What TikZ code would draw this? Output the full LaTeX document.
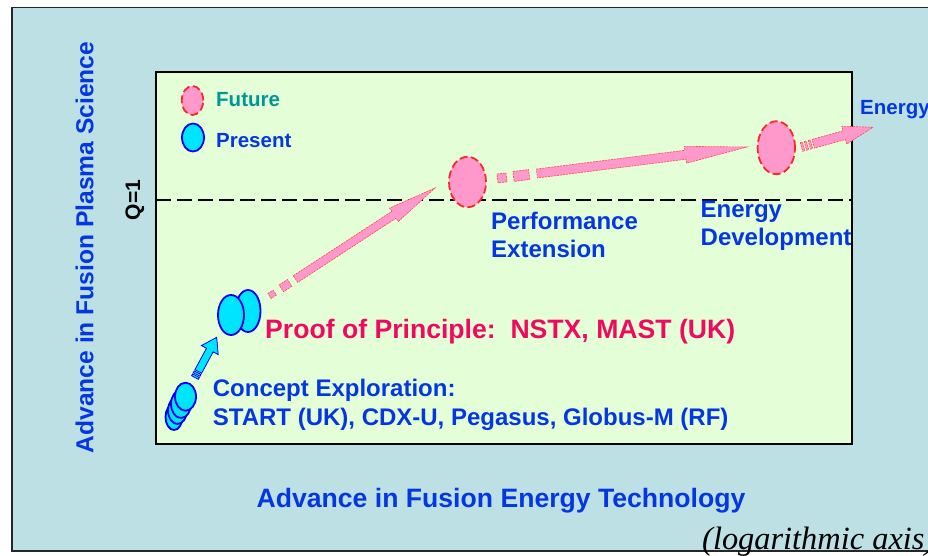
\documentclass[tikz,border=0pt]{standalone}
\usepackage{fontspec}
\setmainfont{Liberation Sans}
\newfontfamily\timesfont{Liberation Serif}
\usetikzlibrary{calc,positioning,shapes.geometric}
\definecolor{outerbg}{RGB}{188,224,228}
\definecolor{innerbg}{RGB}{228,254,216}
\definecolor{futurepink}{RGB}{255,153,204}
\definecolor{futurered}{RGB}{250,40,40}
\definecolor{presentcyan}{RGB}{0,229,255}
\definecolor{presentblue}{RGB}{0,0,235}
\definecolor{labelblue}{RGB}{5,55,225}
\definecolor{futureteal}{RGB}{0,150,150}
\definecolor{proofred}{RGB}{240,10,95}
\tikzset{
  future/.style={ellipse,inner sep=0pt,fill=futurepink,draw=futurered,line width=1.8pt,dash pattern=on 8pt off 3.5pt},
  present/.style={ellipse,inner sep=0pt,fill=presentcyan,draw=presentblue,line width=1.8pt},
  pinkarrow/.style={fill=futurepink,draw=futurered!85,line width=0.6pt,dash pattern=on 2pt off 1pt},
  cyanarrow/.style={fill=presentcyan,draw=presentblue,line width=0.8pt},
  lbl/.style={inner sep=0pt,anchor=base west,font=\bfseries,align=left},
}
% fat arrow: style, tail, tip, shaft start (fraction), shaft half width, head half width, head length
\newcommand{\blockarrow}[7]{%
  \coordinate (ba-s) at ($(#2)!#4!(#3)$);
  \coordinate (ba-h) at ($(#3)!#7!(#2)$);
  \draw[#1] ($(ba-s)!#5!90:(#3)$) -- ($(ba-h)!#5!90:(#3)$) -- ($(ba-h)!#6!90:(#3)$) -- (#3)
    -- ($(ba-h)!#6!-90:(#3)$) -- ($(ba-h)!#5!-90:(#3)$) -- ($(ba-s)!#5!-90:(#3)$) -- cycle;
}
% broken tail piece: style, tail, tip, from, to (fractions), half width
\newcommand{\tailbit}[6]{%
  \coordinate (tb-a) at ($(#2)!#4!(#3)$);
  \coordinate (tb-b) at ($(#2)!#5!(#3)$);
  \draw[#1] ($(tb-a)!#6!90:(tb-b)$) -- ($(tb-b)!#6!-90:(tb-a)$) -- ($(tb-b)!#6!90:(tb-a)$) -- ($(tb-a)!#6!-90:(tb-b)$) -- cycle;
}

\begin{document}
\begin{tikzpicture}[x=1pt,y=-1pt]
\useasboundingbox (0,0) rectangle (928,556);
\clip (0,0) rectangle (928,556);
\fill[white] (0,0) rectangle (928,556);
\draw[fill=outerbg,draw=black!85,line width=1.2pt] (12,7.5) rectangle (945,551);
\draw[fill=innerbg,line width=2.7pt] (156,72) rectangle (852,444);

% Q=1 level
\coordinate (qL) at (156,200);
\coordinate (qR) at (851,200);
\draw[line width=1.6pt,dash pattern=on 15pt off 6pt] (qL) -- (qR);
\node[inner sep=0pt,anchor=base,rotate=90,font=\bfseries\fontsize{21}{25}\selectfont] (q1) at (140,200) {Q=1};

% axis labels
\node[inner sep=0pt,anchor=base,rotate=90,text=labelblue,font=\bfseries\fontsize{24.6}{29}\selectfont] (yaxis) at (93.3,247.5) {Advance in Fusion Plasma Science};
\node[inner sep=0pt,anchor=base,text=labelblue,font=\bfseries\fontsize{26.6}{31}\selectfont] (xaxis) at (501,507.3) {Advance in Fusion Energy Technology};
\node[inner sep=0pt,anchor=base west,font=\timesfont\itshape\fontsize{32.4}{37}\selectfont] (logaxis) at (702,549) {(logarithmic axis)};

% legend
\node[future,minimum width=21.5pt,minimum height=29pt] (legfut) at (192.5,100.5) {};
\node[present,minimum width=22pt,minimum height=28pt] (legpres) at (193,137.5) {};
\node[lbl,text=futureteal,font=\bfseries\fontsize{20.5}{24}\selectfont] (futtext) at (216,106.7) {Future};
\node[lbl,text=labelblue,font=\bfseries\fontsize{20.5}{24}\selectfont] (prestext) at (216,147.3) {Present};

% concept exploration
\node[present,minimum width=17pt,minimum height=26pt] (ce4) at (174,417) {};
\node[present,minimum width=19pt,minimum height=27pt] (ce3) at (177.5,410.5) {};
\node[present,minimum width=20pt,minimum height=28pt] (ce2) at (181,404) {};
\node[present,minimum width=21pt,minimum height=28pt] (ce1) at (185.5,396.7) {};
\node[lbl,text=labelblue,font=\bfseries\fontsize{24}{28.3}\selectfont] (cetext) at (212.7,425)
  {Concept Exploration:\\START (UK), CDX-U, Pegasus, Globus-M (RF)};

% proof of principle
\node[present,minimum width=25pt,minimum height=42pt] (pp2) at (248,311) {};
\node[present,minimum width=26pt,minimum height=40pt] (pp1) at (231,315) {};
\node[lbl,text=proofred,font=\bfseries\fontsize{26.6}{31}\selectfont] (pptext) at (265,338.3) {Proof of Principle:\ \ NSTX, MAST (UK)};

% future steps
\node[future,minimum width=37pt,minimum height=50.5pt] (perf) at (467.5,182) {};
\node[lbl,text=labelblue,font=\bfseries\fontsize{24}{27.5}\selectfont] (perftext) at (491,257) {Performance\\Extension};
\node[future,minimum width=37.5pt,minimum height=53pt] (edev) at (776.3,147.7) {};
\node[lbl,text=labelblue,font=\bfseries\fontsize{24}{28.4}\selectfont] (edevtext) at (700.5,245.7) {Energy\\Development};
\node[lbl,text=labelblue,font=\bfseries\fontsize{20.5}{24}\selectfont] (energy) at (860,114.3) {Energy};

% Draw arrows
\coordinate (a1-tail) at (195,377.5);
\coordinate (a1-tip) at (216.7,337.3);
\foreach \a/\b in {0/.045,.075/.12}
  \tailbit{cyanarrow}{a1-tail}{a1-tip}{\a}{\b}{3.8pt};
\blockarrow{cyanarrow}{a1-tail}{a1-tip}{.15}{3.8pt}{9.5pt}{14.5pt}

\coordinate (a2-tail) at (269.5,296);
\coordinate (a2-tip) at (435,188);
\tailbit{pinkarrow}{a2-tail}{a2-tip}{0}{.032}{3pt}
\tailbit{pinkarrow}{a2-tail}{a2-tip}{.071}{.122}{4pt}
\blockarrow{pinkarrow}{a2-tail}{a2-tip}{.157}{4pt}{8pt}{49pt}

\coordinate (a3-tail) at (497.5,178.5);
\coordinate (a3-tip) at (747,147);
\tailbit{pinkarrow}{a3-tail}{a3-tip}{0}{.036}{4.5pt}
\tailbit{pinkarrow}{a3-tail}{a3-tip}{.064}{.127}{5pt}
\blockarrow{pinkarrow}{a3-tail}{a3-tip}{.158}{4.5pt}{8.5pt}{62pt}

\coordinate (a4-tail) at (801.5,147);
\coordinate (a4-tip) at (872.7,127.3);
\foreach \a/\b in {0/.03,.055/.085,.11/.14}
  \tailbit{pinkarrow}{a4-tail}{a4-tip}{\a}{\b}{4.5pt};
\blockarrow{pinkarrow}{a4-tail}{a4-tip}{.165}{4.5pt}{9.3pt}{29.5pt}
\end{tikzpicture}
\end{document}
